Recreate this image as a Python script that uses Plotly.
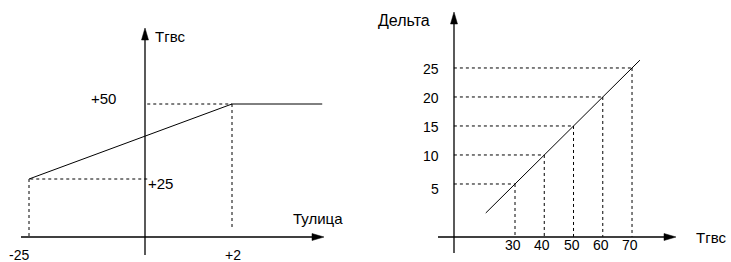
import plotly.graph_objects as go

# ---------------- data ----------------
# Left panel: Тгвс vs Тулица (schematic)
left_break_x = [-25, 2]          # Тулица values marked on the axis
left_break_y = [25, 50]          # Тгвс values marked on the axis
left_line_x = [-25, 2, 14]       # curve: rising part, then flat
left_line_y = [25, 50, 50]
left_xtick_labels = ["-25", "+2"]
left_ytick_labels = ["+25", "+50"]

# Right panel: Дельта vs Тгвс
right_t = [30, 40, 50, 60, 70]
right_delta = [5, 10, 15, 20, 25]
right_line_t = [20, 72.7]
right_line_delta = [0, 26.35]
right_xtick_labels = ["30", "40", "50", "60", "70"]
right_ytick_labels = ["5", "10", "15", "20", "25"]

# ---------------- style ----------------
W, H = 731, 262
FONT = "Liberation Sans, Arial, sans-serif"
# where the drawn axes cross, in each panel's data units
L_AX_X, L_AX_Y = -9.57, 5.67
R_AX_X, R_AX_Y = 9.1, -4.1

def px(xp):
    return xp / W

def py(yp):
    return 1 - yp / H

fig = go.Figure()

fig.add_trace(go.Scatter(x=left_line_x, y=left_line_y, mode="lines",
                         line=dict(color="black", width=1),
                         xaxis="x", yaxis="y", hoverinfo="skip"))
fig.add_trace(go.Scatter(x=right_line_t, y=right_line_delta, mode="lines",
                         line=dict(color="black", width=1),
                         xaxis="x2", yaxis="y2", hoverinfo="skip"))

shapes = []
annotations = []
dot = dict(color="black", width=1, dash="dot")

# left dotted guides
for xv, yv in zip(left_break_x, left_break_y):
    shapes.append(dict(type="line", xref="x", yref="y", x0=L_AX_X + 0.3, x1=xv,
                       y0=yv, y1=yv, line=dot))
    shapes.append(dict(type="line", xref="x", yref="y", x0=xv, x1=xv,
                       y0=yv, y1=L_AX_Y if xv < 0 else 8, line=dot))
# right dotted guides
for tv, dv in zip(right_t, right_delta):
    shapes.append(dict(type="line", xref="x2", yref="y2", x0=R_AX_X, x1=tv,
                       y0=dv, y1=dv, line=dot))
    shapes.append(dict(type="line", xref="x2", yref="y2", x0=tv, x1=tv,
                       y0=dv, y1=R_AX_Y, line=dot))

axl = dict(color="black", width=1.3)
shapes.append(dict(type="line", xref="paper", yref="paper",
                   x0=px(145), x1=px(145), y0=py(255), y1=py(38), line=axl))
shapes.append(dict(type="line", xref="paper", yref="paper",
                   x0=px(21), x1=px(313), y0=py(237), y1=py(237), line=axl))
shapes.append(dict(type="line", xref="paper", yref="paper",
                   x0=px(454), x1=px(454), y0=py(253), y1=py(22), line=axl))
shapes.append(dict(type="line", xref="paper", yref="paper",
                   x0=px(438), x1=px(665), y0=py(237), y1=py(237), line=axl))

def tri_up(cx, tip, base, hw=3.5):
    return (f"M {px(cx)} {py(tip)} L {px(cx-hw)} {py(base)} "
            f"L {px(cx+hw)} {py(base)} Z")

def tri_right(cy, tip, base, hh=3.5):
    return (f"M {px(tip)} {py(cy)} L {px(base)} {py(cy-hh)} "
            f"L {px(base)} {py(cy+hh)} Z")

for path in [tri_up(145, 28, 40), tri_right(237, 324, 312),
             tri_up(454, 12, 24), tri_right(237, 676, 664)]:
    shapes.append(dict(type="path", xref="paper", yref="paper", path=path,
                       fillcolor="black", line=dict(color="black", width=0.5)))

def txt(text, x, y, size, xref="paper", yref="paper", xanchor="left",
        yanchor="middle", xshift=0, yshift=0):
    annotations.append(dict(text=text, x=x, y=y, xref=xref, yref=yref,
                            xanchor=xanchor, yanchor=yanchor, showarrow=False,
                            xshift=xshift, yshift=yshift,
                            font=dict(family=FONT, size=size, color="black")))

# left labels
txt("Тгвс", px(153), py(36), 15)
txt("Тулица", px(291), py(218), 15)
txt(left_ytick_labels[1], px(89), left_break_y[1], 15, yref="y", yshift=6)
txt(left_ytick_labels[0], px(146), left_break_y[0], 15, yref="y", yshift=-4)
txt(left_xtick_labels[0], left_break_x[0], py(255), 14, xref="x",
    xanchor="right", xshift=2)
txt(left_xtick_labels[1], left_break_x[1], py(255), 14, xref="x",
    xanchor="center", xshift=1)

# right labels
txt("Дельта", px(376), py(20), 16)
txt("Тгвс", px(694), py(237), 15)
for dv, lab in zip(right_delta, right_ytick_labels):
    txt(lab, px(441), dv, 14, yref="y2", xanchor="right",
        yshift=-5 if dv == 5 else -1)
for tv, lab in zip(right_t, right_xtick_labels):
    txt(lab, tv, py(245), 14, xref="x2", xanchor="center", xshift=-2)

hidden = dict(visible=False, showgrid=False, zeroline=False, fixedrange=True)
fig.update_layout(
    width=W, height=H, autosize=False,
    margin=dict(l=0, r=0, t=0, b=0, pad=0),
    paper_bgcolor="white", plot_bgcolor="rgba(0,0,0,0)",
    showlegend=False,
    xaxis=dict(domain=[0, 1], range=[-28.857, 68.37], anchor="y", **hidden),
    yaxis=dict(domain=[0, 1], range=[-2.667, 84.667], anchor="x", **hidden),
    xaxis2=dict(domain=[0, 1], range=[-146.07, 103.84], anchor="y2", **hidden),
    yaxis2=dict(domain=[0, 1], range=[-8.45, 36.72], anchor="x2", **hidden),
    shapes=shapes, annotations=annotations,
)

fig.write_html("out.html", config={"displayModeBar": False, "staticPlot": True},
               post_script="document.body.style.margin='0px';"
                           "document.body.style.overflow='hidden';")
